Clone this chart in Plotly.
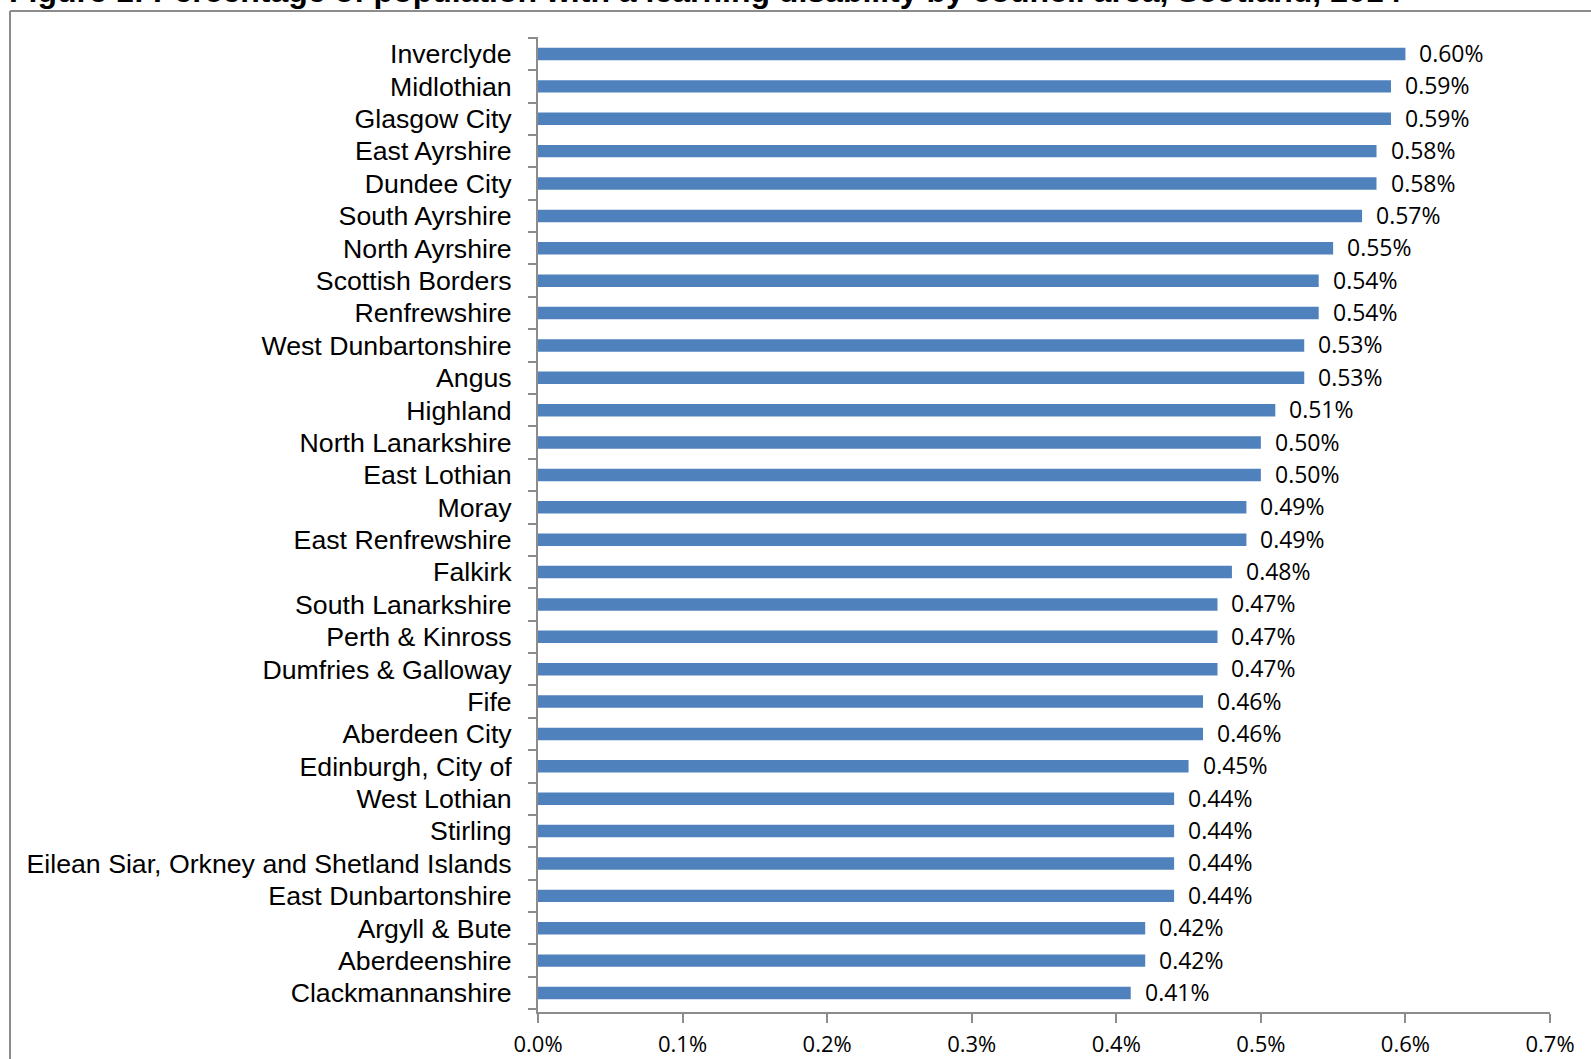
import plotly.graph_objects as go

areas = [
    "Inverclyde", "Midlothian", "Glasgow City", "East Ayrshire", "Dundee City",
    "South Ayrshire", "North Ayrshire", "Scottish Borders", "Renfrewshire",
    "West Dunbartonshire", "Angus", "Highland", "North Lanarkshire", "East Lothian",
    "Moray", "East Renfrewshire", "Falkirk", "South Lanarkshire", "Perth & Kinross",
    "Dumfries & Galloway", "Fife", "Aberdeen City", "Edinburgh, City of",
    "West Lothian", "Stirling", "Eilean Siar, Orkney and Shetland Islands",
    "East Dunbartonshire", "Argyll & Bute", "Aberdeenshire", "Clackmannanshire",
]
pct = [
    0.60, 0.59, 0.59, 0.58, 0.58, 0.57, 0.55, 0.54, 0.54, 0.53, 0.53, 0.51,
    0.50, 0.50, 0.49, 0.49, 0.48, 0.47, 0.47, 0.47, 0.46, 0.46, 0.45, 0.44,
    0.44, 0.44, 0.44, 0.42, 0.42, 0.41,
]
x_ticks = [0.0, 0.1, 0.2, 0.3, 0.4, 0.5, 0.6, 0.7]
x_tick_labels = ["0.0%", "0.1%", "0.2%", "0.3%", "0.4%", "0.5%", "0.6%", "0.7%"]
title_text = "Figure 1: Percentage of population with a learning disability by council area, Scotland, 2014"

W, H = 1591, 1059
L, R = 538, 1550
T, B = 36.5, 1012.5

axis_grey = "#8c8c8c"

fig = go.Figure()
fig.add_trace(go.Bar(
    x=pct, y=areas, orientation="h",
    marker=dict(color="#4F81BD", line=dict(width=0)),
    hoverinfo="x+y",
))

annotations = []
for a, v in zip(areas, pct):
    annotations.append(dict(
        x=v, y=a, xref="x", yref="y", text=f"{v:.2f}%",
        showarrow=False, xanchor="left", yanchor="middle", xshift=12, yshift=1,
        font=dict(family="Open Sans", size=23, color="#000000"),
    ))

pw = R - L
ph = B - T
def px_x(p):
    return (p - L) / pw
def px_y(p):
    return (B - p) / ph

annotations.append(dict(
    x=px_x(7), y=px_y(10), xref="paper", yref="paper", text="<b>" + title_text + "</b>",
    showarrow=False, xanchor="left", yanchor="bottom",
    font=dict(family="Liberation Sans", size=32, color="#000000"),
))

shapes = [
    dict(type="line", xref="paper", yref="paper", x0=px_x(10), x1=px_x(W + 10),
         y0=px_y(10.5), y1=px_y(10.5), line=dict(color=axis_grey, width=2)),
    dict(type="line", xref="paper", yref="paper", x0=px_x(10), x1=px_x(10),
         y0=px_y(10.5), y1=px_y(H + 10), line=dict(color=axis_grey, width=2)),
]

fig.update_layout(
    template="none",
    width=W, height=H,
    margin=dict(l=L, r=W - R, t=T, b=H - B, pad=0, autoexpand=False),
    paper_bgcolor="white", plot_bgcolor="white",
    bargap=0.615,
    showlegend=False,
    annotations=annotations,
    shapes=shapes,
    xaxis=dict(
        range=[0, 0.7], tickvals=x_ticks, ticktext=x_tick_labels,
        showgrid=False, zeroline=False, automargin=False,
        showline=True, linecolor=axis_grey, linewidth=2,
        ticks="outside", ticklen=9, tickwidth=2, tickcolor=axis_grey,
        tickfont=dict(family="Open Sans", size=22, color="#000000"),
        ticklabelstandoff=3,
    ),
    yaxis=dict(
        autorange="reversed", type="category", automargin=False,
        tickmode="array", tickvals=areas, ticktext=areas,
        showgrid=False, zeroline=False,
        showline=True, linecolor=axis_grey, linewidth=2,
        ticks="outside", tickson="boundaries", ticklen=8, tickwidth=2, tickcolor=axis_grey,
        tickfont=dict(family="Liberation Sans", size=26.7, color="#000000"),
        ticklabelstandoff=19,
    ),
)

fig.write_html("out.html", config={"displayModeBar": False},
               post_script="document.body.style.margin='0px';")
